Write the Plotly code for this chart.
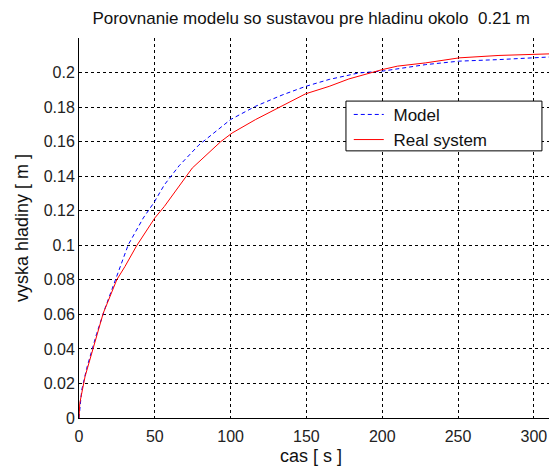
import plotly.graph_objects as go

# Model response (first-order approximation), time [s] and level [m]
model_t = [0, 1.8, 5.1, 11.7, 17.2, 25.5, 32.5, 42.4, 49.5, 56.3, 66, 79, 100,
           116.5, 134, 149.5, 165, 184.7, 200, 228.7, 250.7, 277, 303.4, 310]
model_h = [0, 0.0162, 0.0288, 0.049, 0.0636, 0.0839, 0.1003, 0.1158, 0.1248,
           0.135, 0.146, 0.158, 0.1728, 0.1805, 0.187, 0.192, 0.196, 0.1998,
           0.2008, 0.2046, 0.2066, 0.2075, 0.2085, 0.209]

# Measured response of the real system
real_t = [0, 0.5, 4, 9.4, 16, 24.9, 30.3, 38, 50, 56.3, 74.7, 93.5, 101, 116.5,
          131, 149.5, 165, 178, 200, 210, 228.7, 250.7, 277, 299, 310]
real_h = [0, 0.0085, 0.024, 0.0404, 0.0607, 0.08, 0.0877, 0.0997, 0.1158,
          0.1225, 0.1447, 0.160, 0.165, 0.1728, 0.1795, 0.1877, 0.192, 0.1963,
          0.2017, 0.2037, 0.2056, 0.2085, 0.2099, 0.2104, 0.2108]

x_ticks = [0, 50, 100, 150, 200, 250, 300]
y_ticks = [0, 0.02, 0.04, 0.06, 0.08, 0.1, 0.12, 0.14, 0.16, 0.18, 0.2]
y_tick_text = ["0", "0.02", "0.04", "0.06", "0.08", "0.1", "0.12", "0.14",
               "0.16", "0.18", "0.2"]

FONT = "Liberation Sans, Arial, sans-serif"

fig = go.Figure()
fig.add_trace(go.Scatter(x=model_t, y=model_h, mode="lines", name="\u00a0Model",
                         line=dict(color="#0000ff", width=1, dash="4px,3px")))
fig.add_trace(go.Scatter(x=real_t, y=real_h, mode="lines",
                         name="\u00a0Real system",
                         line=dict(color="#ff0000", width=1)))

axis_common = dict(showline=True, linecolor="black", linewidth=1, mirror=False,
                   showgrid=True, gridcolor="black", gridwidth=1,
                   griddash="3px,3px", zeroline=False, ticks="",
                   tickfont=dict(family=FONT, size=16, color="#222"))

fig.update_xaxes(range=[0, 310], tickvals=x_ticks, ticklabelstandoff=4,
                 **axis_common)
fig.update_yaxes(range=[0, 0.22], tickvals=y_ticks, ticktext=y_tick_text,
                 **axis_common)

fig.update_layout(
    width=549, height=467,
    margin=dict(l=79, r=0, t=38, b=49),
    paper_bgcolor="white", plot_bgcolor="white",
    font=dict(family=FONT, size=16, color="#222"),
    title=dict(text="Porovnanie modelu so sustavou pre hladinu okolo\u00a0\u00a00.21 m",
               x=0.494, xref="paper", xanchor="center",
               y=1 - 18 / 467, yref="container", yanchor="middle",
               font=dict(family=FONT, size=17, color="#111")),
    legend=dict(x=0.574, y=0.845, xanchor="left", yanchor="top",
                bgcolor="rgba(0,0,0,0)", borderwidth=0,
                font=dict(family=FONT, size=17, color="#111")),
    showlegend=True,
    shapes=[
        # legend frame, covering the grid behind the legend entries
        dict(type="rect", xref="paper", yref="paper",
             x0=0.568, x1=0.985, y0=0.703, y1=0.834, layer="above",
             line=dict(color="black", width=1), fillcolor="white"),
    ],
    annotations=[
        dict(text="cas [ s ]", x=0.494, y=0, xref="paper", yref="paper",
             xanchor="center", yanchor="middle", yshift=-38, showarrow=False,
             font=dict(family=FONT, size=18, color="#111")),
        dict(text="vyska hladiny [ m ]", x=0, y=0.5, xref="paper", yref="paper",
             xanchor="center", yanchor="middle", xshift=-57, textangle=-90,
             showarrow=False, font=dict(family=FONT, size=18, color="#111")),
    ],
)

fig.write_html("out.html")
